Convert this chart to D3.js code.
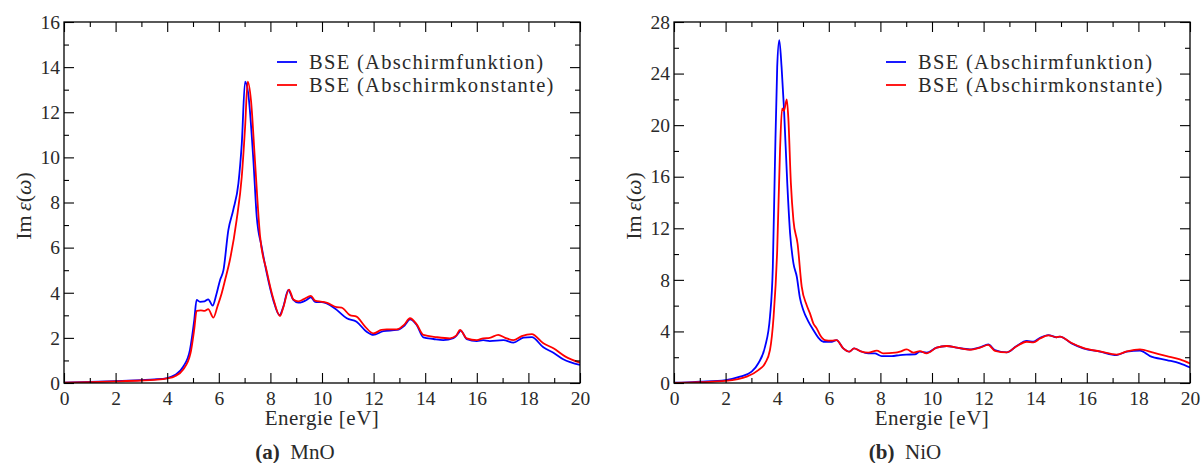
<!DOCTYPE html>
<html><head><meta charset="utf-8">
<script src="https://cdn.jsdelivr.net/npm/d3@7"></script>
<style>
body{margin:0;background:#fff;}
</style></head>
<body><svg id="c" width="1203" height="463"></svg>
<script>
// ---------- data ----------
const seriesNames = ["BSE (Abschirmfunktion)", "BSE (Abschirmkonstante)"];
const panelCaptions = ["MnO", "NiO"];
const panelLetters = ["(a)", "(b)"];

const mnoEnergyBlue = [0,1,2,3,3.5,4,4.3,4.62,4.88,5.05,5.14,5.27,5.45,5.59,5.76,5.9,6.05,6.18,6.37,6.56,6.76,6.89,7.02,7.14,7.34,7.47,7.66,7.86,8.11,8.35,8.5,8.69,8.89,9.08,9.25,9.4,9.57,9.73,10.0,10.18,10.57,10.96,11.34,11.73,11.99,12.38,12.9,13.2,13.41,13.67,13.93,14.32,14.7,15.09,15.25,15.38,15.61,16.0,16.25,16.5,17.03,17.42,17.81,18.13,18.58,18.97,19.35,20];
const mnoBlue = [0.02,0.05,0.08,0.13,0.16,0.22,0.35,0.72,1.46,2.8,3.68,3.6,3.62,3.71,3.43,3.9,4.57,5.0,6.78,7.67,8.85,10.6,13.36,12.84,9.88,7.37,6.04,4.86,3.68,3.01,3.38,4.12,3.68,3.56,3.6,3.68,3.8,3.6,3.58,3.53,3.24,2.87,2.72,2.27,2.13,2.3,2.35,2.55,2.82,2.57,2.02,1.95,1.9,1.99,2.15,2.32,1.94,1.86,1.9,1.86,1.9,1.79,2.01,2.03,1.58,1.34,1.05,0.8];

const mnoEnergyRed = [0,1,2,3,3.5,4,4.3,4.62,4.9,5.05,5.14,5.3,5.45,5.59,5.79,5.95,6.11,6.25,6.43,6.69,6.89,7.02,7.12,7.25,7.4,7.6,7.86,8.11,8.37,8.5,8.72,8.89,9.08,9.3,9.57,9.73,10.0,10.2,10.57,10.76,11.08,11.34,11.67,11.99,12.3,12.51,12.9,13.2,13.41,13.67,13.93,14.45,14.96,15.2,15.35,15.61,16.0,16.25,16.5,16.83,17.1,17.42,17.74,18.13,18.58,18.97,19.42,20];
const mnoRed = [0.02,0.04,0.07,0.11,0.14,0.2,0.3,0.6,1.3,2.4,3.2,3.22,3.2,3.27,2.9,3.4,3.97,4.6,5.45,7.22,9.14,11.36,13.36,12.5,9.88,6.5,4.95,3.75,2.97,3.35,4.14,3.7,3.62,3.72,3.86,3.65,3.6,3.55,3.36,3.34,3.01,2.94,2.5,2.2,2.35,2.38,2.38,2.6,2.87,2.6,2.13,2.03,1.98,2.1,2.35,1.98,1.9,1.98,2.0,2.13,2.0,1.9,2.08,2.17,1.76,1.54,1.18,0.9];

const nioEnergyBlue = [0,0.5,1,2,2.56,3.01,3.27,3.53,3.72,3.83,3.91,4.0,4.08,4.17,4.26,4.39,4.5,4.63,4.76,4.88,5.01,5.2,5.4,5.6,5.79,6.11,6.3,6.56,6.8,6.98,7.21,7.53,7.78,8.05,8.44,8.76,9.0,9.34,9.53,9.79,10.18,10.57,10.96,11.47,11.86,12.18,12.44,12.9,13.28,13.67,13.93,14.19,14.51,14.83,14.96,15.41,15.86,16.51,17.16,17.55,18.06,18.45,19.1,19.61,20];
const nioBlue = [0.02,0.05,0.1,0.23,0.49,0.88,1.53,2.82,5.14,9.0,16.8,24.5,26.6,24.5,21.4,15.5,11.6,9.28,8.24,6.6,5.66,4.8,4.11,3.5,3.2,3.2,3.33,2.69,2.43,2.69,2.48,2.3,2.3,2.09,2.09,2.17,2.2,2.22,2.43,2.35,2.74,2.87,2.74,2.61,2.77,3.0,2.56,2.38,2.87,3.26,3.2,3.51,3.72,3.54,3.6,3.07,2.69,2.43,2.17,2.43,2.51,2.09,1.78,1.52,1.2];

const nioEnergyRed = [0,0.5,1,2,2.82,3.27,3.53,3.72,3.86,4.0,4.11,4.19,4.26,4.37,4.43,4.53,4.63,4.79,4.95,5.14,5.27,5.4,5.53,5.66,5.85,6.11,6.3,6.56,6.8,6.98,7.21,7.53,7.86,8.11,8.57,8.76,9.02,9.28,9.53,9.79,10.18,10.57,10.96,11.47,11.86,12.18,12.44,12.9,13.28,13.67,13.93,14.19,14.51,14.83,14.96,15.41,15.86,16.51,17.16,17.55,18.06,18.58,19.1,19.61,20];
const nioRed = [0.01,0.03,0.06,0.16,0.49,1.0,1.53,2.56,5.14,10.3,18.1,21.3,21.1,22.0,20.6,15.5,12.6,10.8,7.47,6.05,5.4,4.63,4.24,3.72,3.33,3.28,3.33,2.69,2.43,2.69,2.48,2.35,2.51,2.3,2.35,2.43,2.61,2.35,2.48,2.3,2.74,2.87,2.74,2.58,2.74,2.95,2.5,2.38,2.85,3.2,3.15,3.45,3.7,3.55,3.6,3.1,2.72,2.45,2.2,2.45,2.61,2.35,2.09,1.83,1.52];

const xTicks = [0,2,4,6,8,10,12,14,16,18,20];
const xMinor = [1,3,5,7,9,11,13,15,17,19];
const mnoYTicks = [0,2,4,6,8,10,12,14,16];
const mnoYMinor = [1,3,5,7,9,11,13,15];
const nioYTicks = [0,4,8,12,16,20,24,28];
const nioYMinor = [2,6,10,14,18,22,26];

// ---------- drawing ----------
const svg = d3.select("#c");
const colors = ["#0000ff", "#ff0000"];
const FONT = '"Liberation Serif"';
const TXT = "#2a2a2a";

const panels = [
  {left:64, right:580, yMax:16, yTicks:mnoYTicks, yMinor:mnoYMinor,
   series:[[mnoEnergyBlue,mnoBlue],[mnoEnergyRed,mnoRed]], labelX:23, legX:277},
  {left:674, right:1190, yMax:28, yTicks:nioYTicks, yMinor:nioYMinor,
   series:[[nioEnergyBlue,nioBlue],[nioEnergyRed,nioRed]], labelX:633, legX:886}
];
const plotTop = 22, plotBottom = 383;

function txt(sel, size) {
  return sel.style("font-family", FONT).style("font-size", size + "px").style("fill", TXT);
}

panels.forEach((p, pi) => {
  const x = d3.scaleLinear().domain([0,20]).range([p.left, p.right]);
  const y = d3.scaleLinear().domain([0,p.yMax]).range([plotBottom, plotTop]);
  const g = svg.append("g");

  const clipId = "clip"+pi;
  svg.append("clipPath").attr("id", clipId).append("rect")
    .attr("x", p.left).attr("y", plotTop).attr("width", p.right-p.left).attr("height", plotBottom-plotTop);

  const line = d3.line().x(d=>x(d[0])).y(d=>y(d[1])).curve(d3.curveMonotoneX);
  p.series.forEach((s, si) => {
    g.append("path").datum(d3.zip(s[0], s[1]))
      .attr("clip-path", `url(#${clipId})`)
      .attr("fill","none").attr("stroke", colors[si]).attr("stroke-width", 1.8)
      .attr("stroke-linejoin","round").attr("d", line);
  });

  const styleAxis = sel => {
    sel.attr("font-family", null).attr("font-size", null);
    sel.select(".domain").remove();
    sel.selectAll("line").attr("stroke","#000").attr("stroke-width",1.1);
    txt(sel.selectAll("text"), 19.5);
  };
  g.append("g").attr("transform",`translate(0,${plotBottom})`)
    .call(d3.axisBottom(x).tickValues(xTicks).tickSizeInner(-10).tickSizeOuter(0).tickPadding(8).tickFormat(d3.format("d")))
    .call(styleAxis);
  g.append("g").attr("transform",`translate(0,${plotBottom})`)
    .call(d3.axisBottom(x).tickValues(xMinor).tickSizeInner(-5).tickSizeOuter(0).tickFormat(""))
    .call(styleAxis);
  g.append("g").attr("transform",`translate(0,${plotTop})`)
    .call(d3.axisTop(x).tickValues(xTicks).tickSizeInner(-10).tickSizeOuter(0).tickFormat(""))
    .call(styleAxis);
  g.append("g").attr("transform",`translate(0,${plotTop})`)
    .call(d3.axisTop(x).tickValues(xMinor).tickSizeInner(-5).tickSizeOuter(0).tickFormat(""))
    .call(styleAxis);
  g.append("g").attr("transform",`translate(${p.left},0)`)
    .call(d3.axisLeft(y).tickValues(p.yTicks).tickSizeInner(-10).tickSizeOuter(0).tickPadding(4).tickFormat(d3.format("d")))
    .call(styleAxis);
  g.append("g").attr("transform",`translate(${p.left},0)`)
    .call(d3.axisLeft(y).tickValues(p.yMinor).tickSizeInner(-5).tickSizeOuter(0).tickFormat(""))
    .call(styleAxis);
  g.append("g").attr("transform",`translate(${p.right},0)`)
    .call(d3.axisRight(y).tickValues(p.yTicks).tickSizeInner(-10).tickSizeOuter(0).tickFormat(""))
    .call(styleAxis);
  g.append("g").attr("transform",`translate(${p.right},0)`)
    .call(d3.axisRight(y).tickValues(p.yMinor).tickSizeInner(-5).tickSizeOuter(0).tickFormat(""))
    .call(styleAxis);

  g.append("rect").attr("x",p.left).attr("y",plotTop).attr("width",p.right-p.left).attr("height",plotBottom-plotTop)
    .attr("fill","none").attr("stroke","#000").attr("stroke-width",1.3);

  seriesNames.forEach((n, si) => {
    const ly = 62 + si*23;
    g.append("line").attr("x1",p.legX).attr("x2",p.legX+20).attr("y1",ly).attr("y2",ly)
      .attr("stroke",colors[si]).attr("stroke-width",1.8);
    txt(g.append("text").attr("x",p.legX+32).attr("y",ly).attr("dy","0.35em"), 20.5)
      .style("letter-spacing","1.3px").text(n);
  });

  const yl = txt(g.append("text").attr("transform",`translate(${p.labelX},206) rotate(-90)`)
    .attr("text-anchor","middle").attr("dy","0.35em"), 22);
  yl.append("tspan").text("Im\u2009");
  yl.append("tspan").style("font-style","italic").text("ε");
  yl.append("tspan").text("(");
  yl.append("tspan").style("font-style","italic").text("ω");
  yl.append("tspan").text(")");

  const cx = (p.left+p.right)/2;
  txt(g.append("text").attr("x",cx).attr("y",418).attr("dy","0.35em").attr("text-anchor","middle"), 21)
    .style("letter-spacing","0.5px").text("Energie [eV]");
  const cap = txt(g.append("text").attr("x",cx - 27).attr("y",452).attr("dy","0.35em").attr("text-anchor","middle"), 21);
  cap.append("tspan").style("font-weight","bold").text(panelLetters[pi]);
  cap.append("tspan").text("\u2002" + panelCaptions[pi]);
});
</script></body></html>
